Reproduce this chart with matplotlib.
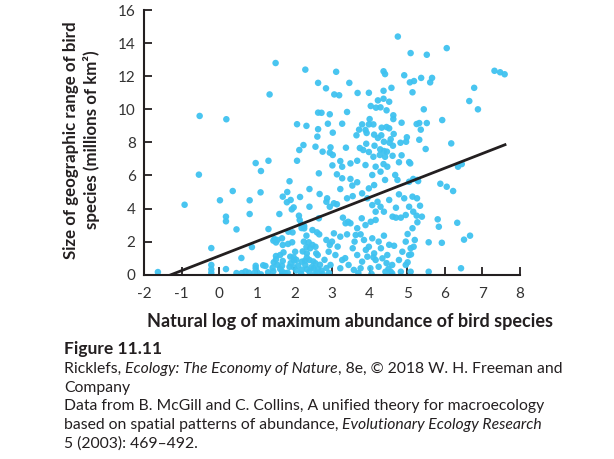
import numpy as np
import matplotlib
matplotlib.use("Agg")
import matplotlib.pyplot as plt

# scatter values (x = ln max abundance, y = range size)
x_vals = [
    # upper left
    -0.52, 0.19, 1.50, 1.34, 2.29, 2.63, 2.07, 2.32, 2.63, 2.63, 2.61, 2.24, 2.56, 2.13,
    # upper centre / right
    4.75, 5.09, 5.52, 6.05, 7.32, 7.47, 7.59, 6.78, 6.65, 6.88, 5.93, 6.17,
    3.11, 2.84, 3.46, 3.06, 3.19, 3.68, 3.98, 4.37, 4.41, 4.37, 4.58, 4.92, 5.07, 5.18, 5.37, 5.66, 5.61, 5.14,
    4.22, 4.37, 4.52, 4.03, 4.17, 4.29, 4.45, 4.63, 4.63, 4.00, 3.80, 3.98, 4.10, 4.32, 4.45, 4.52, 3.72, 3.89,
    4.85, 5.44, 5.25, 5.32, 5.52, 5.36,
    2.72, 2.94, 3.40, 2.89, 3.27, 3.02, 3.65, 3.92, 4.12, 4.22, 4.31, 4.64, 4.56, 4.38, 4.99, 4.97, 4.82, 5.32,
    2.96, 3.37, 3.74, 3.91, 4.13, 4.53, 4.62, 5.49,
    # band around y = 7
    2.94, 3.02, 3.83, 3.98, 4.28, 4.38, 4.46, 4.10, 4.27, 4.41, 4.61, 4.78, 5.05, 3.22, 3.49, 3.67, 3.89,
    3.01, 3.27, 4.16, 4.37, 4.47, 5.08, 4.85, 2.75,
    # lower left
    -1.63, -0.92, -0.54, -0.21, -0.21, -0.21, -0.21, 0.02, 0.36, 0.18, 0.18, 0.18, 0.46, 0.59, 0.46, 0.60,
    0.70, 0.79, 0.93, 1.01, 0.81, 0.81, 0.87, 0.97, 1.11, 1.10, 1.31, 1.31, 0.97, 0.97, 1.17, 1.23, 1.11,
    1.42, 1.44, 1.47, 1.44, 1.55, 1.51, 1.51, 1.62, 1.67, 1.69, 1.67, 1.67, 1.67, 1.60, 1.69, 1.81, 1.87,
    1.90, 1.93, 1.98, 1.84, 1.95, 1.83, 1.94, 1.89, 1.87, 1.82, 1.98, 1.99, 1.98, 2.07, 2.15, 2.12, 2.14,
    2.18, 2.26, 2.19, 2.26, 2.25, 2.22, 2.32, 2.33, 2.40, 2.20, 2.29, 2.33, 2.40, 2.40, 2.40, 2.32, 2.48,
    2.42, 2.56, 2.58, 2.56, 2.51, 2.60, 2.65, 2.67, 2.65, 2.66,
    1.80, 2.60, 1.51, 1.69, 2.38, 2.48, 2.02, 2.62, 2.33, 1.71, 2.85, 2.94, 2.85, 2.94,
    1.30, 1.55, 1.62, 1.75, 1.90, 2.05, 2.10, 2.18, 2.28, 2.45, 2.50, 2.55, 2.68, 2.72, 2.80, 2.85,
    2.92, 2.75, 2.62, 2.05, 1.45, 2.20,
    # lower centre
    3.13, 3.27, 3.49, 3.67, 3.54, 4.07, 4.29, 4.41, 4.68, 4.74, 5.05, 5.16, 3.98, 4.12, 3.80, 3.22,
    2.87, 3.05, 3.13, 3.40, 3.55, 3.94, 4.07, 4.21, 4.29, 4.16, 4.38, 4.52, 4.70, 4.92, 4.78, 4.61,
    4.70, 4.83, 5.05, 5.16, 4.96, 3.29, 3.43, 3.36, 3.49, 3.67, 3.89, 3.79, 4.03, 4.16,
    3.05, 3.22, 3.40, 3.00, 3.63, 3.76, 3.85, 4.07, 3.98, 4.24, 4.38, 4.52, 4.65, 4.96, 5.09, 4.87,
    2.91, 3.09, 3.27, 3.44, 3.67, 3.80, 3.94, 4.12, 4.16, 4.34, 4.47, 4.60, 4.78, 4.96, 5.09, 2.96,
    3.22, 3.58, 3.76, 4.02, 4.24, 4.42, 4.60, 4.83,
    3.55, 3.70, 3.90, 4.05, 4.30, 4.45, 3.35, 3.15, 3.60, 4.10, 4.50,
    # lower right
    5.29, 6.35, 6.45, 5.88, 6.05, 6.22, 5.14, 5.26, 5.34, 5.25, 5.39, 5.27, 5.14, 5.81, 5.84, 6.33,
    5.20, 5.17, 5.10, 5.57, 5.92, 6.51, 6.67, 5.57, 6.43, 5.27, 5.01, 5.01, 5.05, 4.56,
]
y_vals = [
    9.60, 9.40, 12.80, 10.90, 12.40, 11.60, 9.10, 9.00, 9.80, 8.80, 8.35, 7.84, 7.74, 7.54,
    14.40, 13.40, 13.30, 13.70, 12.33, 12.24, 12.12, 11.30, 10.50, 10.00, 9.35, 7.94,
    12.27, 11.27, 11.60, 10.90, 10.85, 10.99, 11.00, 12.30, 12.13, 11.12, 11.30, 12.06, 11.63, 11.71, 11.90, 11.90, 11.63, 11.03,
    10.54, 10.64, 10.46, 10.20, 10.10, 10.12, 9.94, 9.64, 9.41, 9.41, 9.09, 9.09, 9.09, 8.89, 8.93, 8.85, 8.77, 8.75,
    9.19, 10.00, 9.11, 9.17, 9.17, 8.77,
    9.79, 9.70, 9.84, 9.13, 9.13, 8.59, 8.43, 8.57, 8.47, 8.27, 8.43, 8.51, 8.19, 8.04, 8.31, 8.04, 7.98, 8.16,
    7.70, 7.68, 7.66, 7.92, 7.80, 7.98, 7.80, 7.60,
    7.38, 7.24, 7.54, 7.42, 7.58, 7.48, 7.44, 7.13, 7.24, 7.13, 7.19, 6.80, 6.81, 6.87, 6.73, 6.89, 6.63,
    6.61, 6.53, 6.53, 6.69, 6.53, 6.73, 7.22, 7.44,
    0.16, 4.23, 6.05, 1.61, 0.59, 0.33, 0.12, 4.50, 5.06, 3.51, 3.23, 0.34, 2.74, 1.01, 0.10, 0.10,
    0.20, 0.12, 0.10, 0.15, 4.50, 3.67, 1.67, 6.75, 6.27, 4.98, 6.89, 2.76, 0.54, 0.39, 0.57, 0.53, 0.02,
    0.42, 0.20, 2.16, 2.06, 2.10, 1.13, 0.93, 1.19, 2.20, 0.83, 0.53, 0.20, 0.02, 3.67, 4.72, 5.00, 5.65,
    4.52, 3.95, 4.07, 2.60, 2.56, 1.86, 1.96, 1.09, 0.48, 0.12, 1.05, 0.85, 0.45, 6.89, 4.70, 3.57, 3.31,
    3.05, 2.94, 2.82, 2.80, 2.00, 1.41, 1.67, 1.03, 0.89, 0.79, 0.59, 0.33, 0.18, 5.18, 4.11, 2.36, 2.70,
    1.60, 1.69, 1.29, 0.69, 0.39, 0.12, 6.13, 4.88, 3.41, 2.44,
    4.38, 2.56, 1.95, 1.80, 1.96, 1.80, 1.39, 1.19, 1.29, 1.35, 4.41, 4.11, 2.10, 1.80,
    0.15, 0.60, 0.35, 0.10, 0.70, 0.25, 0.55, 0.05, 0.85, 0.45, 0.80, 0.05, 0.60, 0.25, 0.90, 0.40,
    0.10, 0.05, 0.35, 0.90, 0.75, 0.30,
    6.07, 5.83, 5.79, 5.59, 5.39, 6.03, 6.23, 5.73, 6.03, 5.73, 5.62, 5.79, 5.22, 5.42, 4.92, 5.18,
    4.62, 4.32, 4.26, 4.62, 4.75, 4.62, 4.21, 4.41, 4.11, 3.81, 3.81, 4.52, 4.05, 4.62, 4.86, 3.51,
    3.45, 3.45, 4.11, 3.81, 3.61, 3.45, 3.20, 3.11, 3.11, 2.81, 3.00, 3.41, 3.20, 3.31,
    2.50, 2.30, 2.44, 2.00, 2.40, 2.44, 2.10, 2.20, 1.69, 2.00, 2.36, 1.81, 1.75, 2.00, 1.60, 1.39,
    1.39, 1.19, 0.89, 0.59, 1.19, 0.79, 1.09, 1.29, 0.89, 0.99, 1.19, 0.59, 0.89, 0.59, 0.18, 0.59,
    0.39, 0.29, 0.39, 0.39, 0.48, 0.18, 0.08, 0.18,
    1.60, 0.10, 1.50, 0.05, 1.60, 0.70, 1.00, 1.70, 2.00, 1.05, 0.35,
    5.66, 6.53, 6.69, 5.50, 5.32, 5.06, 4.72, 4.62, 4.17, 3.57, 3.51, 3.17, 2.81, 3.35, 2.90, 3.14,
    2.10, 1.69, 1.23, 1.96, 1.93, 2.12, 2.36, 0.18, 0.39, 5.73, 2.46, 0.75, 1.19, 0.18,
]

# fitted line end points
line_x = [-1.28, 7.6]
line_y = [0.0, 7.86]

x_ticks = list(range(-2, 9))
y_ticks = list(range(0, 17, 2))

plt.rcParams['font.family'] = ['Lato', 'DejaVu Sans']
plt.rcParams['axes.unicode_minus'] = False

fig = plt.figure(figsize=(6.14, 4.59), dpi=100)
ax = fig.add_axes([0.2345, 0.4015, 0.6125, 0.5765])

ax.scatter(x_vals, y_vals, s=22, color='#3fc2f0', edgecolors='none', alpha=0.95, zorder=2)
ax.plot(line_x, line_y, color='#231f20', linewidth=2, zorder=3)

ax.set_xlim(-2, 8)
ax.set_ylim(0, 16)
ax.set_xticks(x_ticks)
ax.set_yticks(y_ticks)
ax.spines['top'].set_visible(False)
ax.spines['right'].set_visible(False)
for s in ['left', 'bottom']:
    ax.spines[s].set_linewidth(1.5)
    ax.spines[s].set_color('#231f20')
ax.tick_params(direction='in', length=6, width=1.3, color='#231f20',
               labelsize=11, labelcolor='#333333', pad=6)
ax.tick_params(axis='x', pad=9)

ax.set_xlabel('Natural log of maximum abundance of bird species', fontsize=13,
              fontweight='bold', color='#231f20')
ax.xaxis.set_label_coords(0.548, -0.145)
ax.set_ylabel('Size of geographic range of bird\nspecies (millions of km\u00b2)', fontsize=12.2,
              fontweight='bold', color='#231f20', linespacing=1.25)
ax.yaxis.set_label_coords(-0.118, 0.51)

# caption, drawn piece by piece so parts can be italic
fig.canvas.draw()
renderer = fig.canvas.get_renderer()

def line_of(pieces, x0, y0, size=11.3):
    x = x0
    for txt, style in pieces:
        t = fig.text(x, y0, txt, fontsize=size, style=style, color='#231f20',
                     transform=None, va='baseline')
        fig.canvas.draw()
        bb = t.get_window_extent(renderer)
        x = bb.x1

H = 459
left = 64
fig.text(left, H - 354, 'Figure 11.11', fontsize=12.5, fontweight='bold', color='#231f20',
         transform=None, va='baseline')
line_of([('Ricklefs, ', 'normal'), ('Ecology: The Economy of Nature', 'italic'),
         (', 8e, \u00a9 2018 W. H. Freeman and', 'normal')], left, H - 373)
line_of([('Company', 'normal')], left, H - 392)
line_of([('Data from B. McGill and C. Collins, A unified theory for macroecology', 'normal')], left, H - 410)
line_of([('based on spatial patterns of abundance, ', 'normal'),
         ('Evolutionary Ecology Research', 'italic')], left, H - 429)
line_of([('5 (2003): 469\u2013492.', 'normal')], left, H - 448)

fig.savefig('out.png', dpi=100)
